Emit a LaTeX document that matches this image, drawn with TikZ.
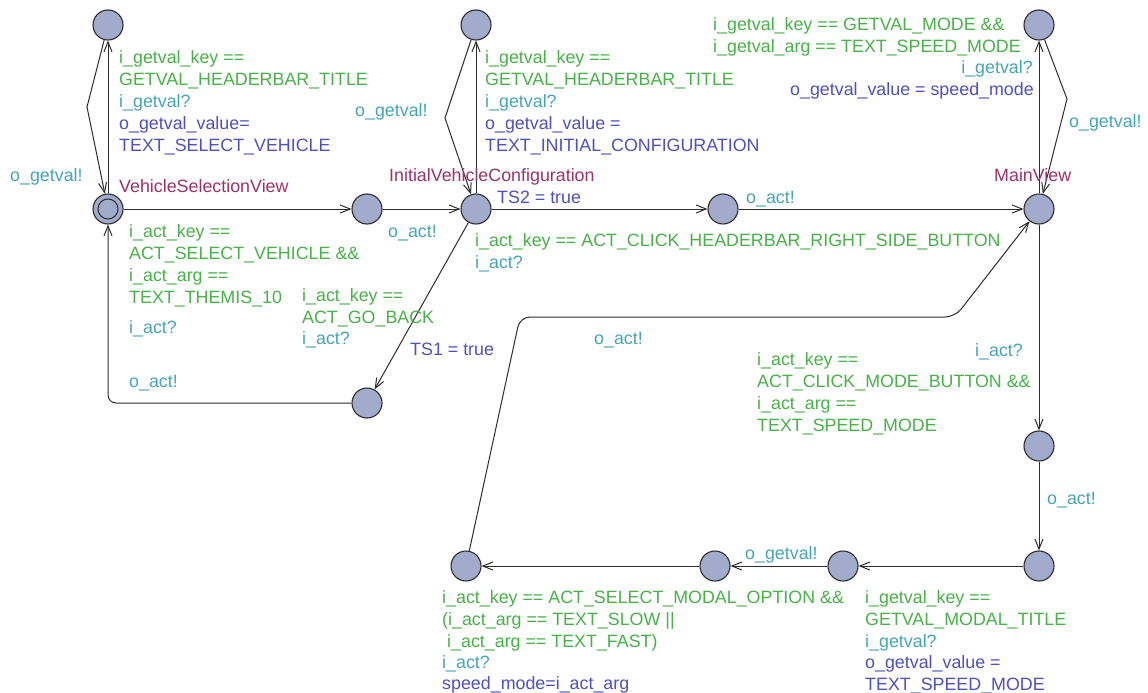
\documentclass[tikz,border=0pt]{standalone}
\usepackage{fontspec}
\setmainfont{Liberation Sans}
\usetikzlibrary{arrows.meta}

\definecolor{guardc}{RGB}{72,178,72}
\definecolor{syncc}{RGB}{70,165,185}
\definecolor{assignc}{RGB}{80,80,190}
\definecolor{namec}{RGB}{155,50,105}
\definecolor{locfill}{RGB}{163,171,205}
\definecolor{edgec}{RGB}{45,45,45}

\newcommand\lblfont{\fontsize{17.85}{22}\selectfont}

\tikzset{
  loc/.style={circle, draw=edgec, fill=locfill, line width=1.1pt,
              minimum size=30pt, inner sep=0pt},
  edge/.style={draw=edgec, line width=1pt,
               -{Straight Barb[length=10pt,width=8pt]}},
  lbl/.style={anchor=north west, inner sep=0pt, align=left, font=\lblfont},
  lblr/.style={anchor=north east, inner sep=0pt, align=right, font=\lblfont},
  guard/.style={lbl, text=guardc},
  sync/.style={lbl, text=syncc},
  assign/.style={lbl, text=assignc},
  locname/.style={lbl, text=namec},
}

\begin{document}
\begin{tikzpicture}[x=1pt, y=-1pt]
\fill[white] (0,0) rectangle (1148,693);
\useasboundingbox (0,0) rectangle (1148,693);

% locations
\node[loc] (A) at (108,25) {};
\node[loc] (V) at (108,209) {};
\node[loc] (B) at (367,209) {};
\node[loc] (I) at (476,209) {};
\node[loc] (C) at (476,25) {};
\node[loc] (D) at (723,209) {};
\node[loc] (M) at (1039,209) {};
\node[loc] (E) at (1039,25) {};
\node[loc] (F) at (367,403) {};
\node[loc] (G) at (1039,446) {};
\node[loc] (H) at (1039,566) {};
\node[loc] (J) at (843,566) {};
\node[loc] (K) at (715,566) {};
\node[loc] (L) at (466,566) {};
% initial location marker
\draw[edgec, line width=1pt] (V) circle (10pt);

% bend points
\coordinate (nA) at (87,107);
\coordinate (nC) at (445,118);
\coordinate (nE) at (1067,99);
\coordinate (cF) at (108,403);
\coordinate (c1) at (520,317);
\coordinate (c2) at (955,317);

% transitions
\draw[edge] (V) -- (A);
\draw[edge] (A) -- (nA) -- (V);
\draw[edge] (V) -- (B);
\draw[edge] (B) -- (I);
\draw[edge] (I) -- (C);
\draw[edge] (C) -- (nC) -- (I);
\draw[edge] (I) -- (D);
\draw[edge] (D) -- (M);
\draw[edge] (M) -- (E);
\draw[edge] (E) -- (nE) -- (M);
\draw[edge] (I) -- (F);
\draw[edge, rounded corners=8pt] (F) -- (cF) -- (V);
\draw[edge] (M) -- (G);
\draw[edge] (G) -- (H);
\draw[edge] (H) -- (J);
\draw[edge] (J) -- (K);
\draw[edge] (K) -- (L);
\draw[edge, rounded corners=10pt] (L) -- (c1) -- (c2) -- (M);

% location names (text tops at baseline - 15.4)
\node[locname] (tV) at (119,176.6) {\strut VehicleSelectionView};
\node[locname] (tI) at (389,165.6) {\strut InitialVehicleConfiguration};
\node[locname] (tM) at (994,165.6) {\strut MainView};

% VehicleSelectionView <-> top-left location
\node[guard]  (gA)  at (119,47.6)  {\strut i\_getval\_key ==\\GETVAL\_HEADERBAR\_TITLE};
\node[sync]   (sA)  at (119,91.6)  {\strut i\_getval?};
\node[assign] (aA)  at (119,113.6) {\strut o\_getval\_value=\\TEXT\_SELECT\_VEHICLE};
\node[sync]   (sA2) at (10,165.6)  {\strut o\_getval!};

% VehicleSelectionView -> B
\node[guard]  (gVB) at (129,221.6) {\strut i\_act\_key ==\\ACT\_SELECT\_VEHICLE \&\&\\i\_act\_arg ==\\TEXT\_THEMIS\_10};
\node[sync]   (sVB) at (129,317.6) {\strut i\_act?};
\node[sync]   (sFV) at (129,371.6) {\strut o\_act!};
\node[sync]   (sBI) at (388,221.6) {\strut o\_act!};

% InitialVehicleConfiguration <-> top-middle location
\node[guard]  (gIC) at (485,47.6)  {\strut i\_getval\_key ==\\GETVAL\_HEADERBAR\_TITLE};
\node[sync]   (sIC) at (485,91.6)  {\strut i\_getval?};
\node[assign] (aIC) at (485,113.6) {\strut o\_getval\_value =\\TEXT\_INITIAL\_CONFIGURATION};
\node[sync]   (sCI) at (355,100.6) {\strut o\_getval!};

% InitialVehicleConfiguration -> D -> MainView
\node[assign] (aID) at (497,187.6) {\strut TS2 = true};
\node[guard]  (gID) at (475,230.6) {\strut i\_act\_key == ACT\_CLICK\_HEADERBAR\_RIGHT\_SIDE\_BUTTON};
\node[sync]   (sID) at (475,252.6) {\strut i\_act?};
\node[sync]   (sDM) at (746,187.6) {\strut o\_act!};

% InitialVehicleConfiguration -> F
\node[guard]  (gIF) at (302,285.6) {\strut i\_act\_key ==\\ACT\_GO\_BACK};
\node[sync]   (sIF) at (302,328.6) {\strut i\_act?};
\node[assign] (aIF) at (410,339.6) {\strut TS1 = true};

% MainView <-> top-right location
\node[guard]  (gME) at (713,14.6)  {\strut i\_getval\_key == GETVAL\_MODE \&\&\\i\_getval\_arg == TEXT\_SPEED\_MODE};
\node[lblr, text=syncc]   (sME) at (1033,57.6) {\strut i\_getval?};
\node[lblr, text=assignc] (aME) at (1034,79.6) {\strut o\_getval\_value = speed\_mode};
\node[sync]   (sEM) at (1069,111.6) {\strut o\_getval!};

% MainView -> G -> H
\node[sync]   (sMG) at (975,340.6) {\strut i\_act?};
\node[guard]  (gMG) at (757,349.6) {\strut i\_act\_key ==\\ACT\_CLICK\_MODE\_BUTTON \&\&\\i\_act\_arg ==\\TEXT\_SPEED\_MODE};
\node[sync]   (sGH) at (1047,488.6) {\strut o\_act!};

% H -> J -> K -> L
\node[guard]  (gHJ) at (865,587.6) {\strut i\_getval\_key ==\\GETVAL\_MODAL\_TITLE};
\node[sync]   (sHJ) at (865,631.6) {\strut i\_getval?};
\node[assign] (aHJ) at (865,652.6) {\strut o\_getval\_value =\\TEXT\_SPEED\_MODE};
\node[sync]   (sJK) at (745,543.6) {\strut o\_getval!};
\node[guard]  (gKL) at (442,587.6) {\strut i\_act\_key == ACT\_SELECT\_MODAL\_OPTION \&\&\\(i\_act\_arg == TEXT\_SLOW ||\\\hspace*{5pt}i\_act\_arg == TEXT\_FAST)};
\node[sync]   (sKL) at (442,652.6) {\strut i\_act?};
\node[assign] (aKL) at (442,673.6) {\strut speed\_mode=i\_act\_arg};

% L -> MainView
\node[sync]   (sLM) at (594,328.6) {\strut o\_act!};
\end{tikzpicture}
\end{document}
